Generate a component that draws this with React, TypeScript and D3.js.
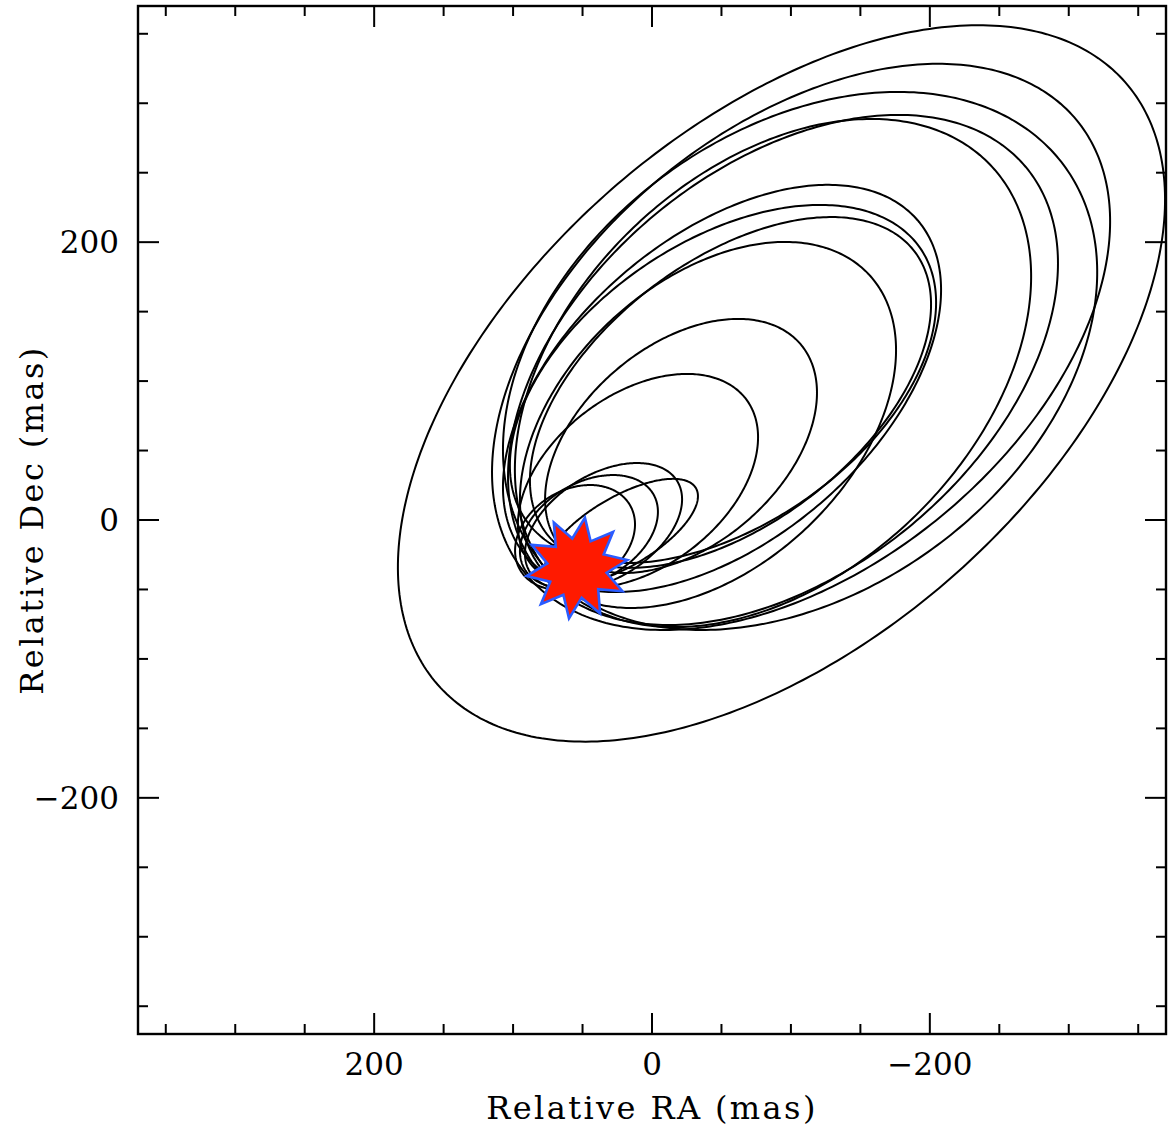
import React from "react";
import * as d3 from "d3";

// axis limits (mas)
const raDomain = [370, -370];
const decDomain = [-370, 370];
const majorTicks = [-200, 0, 200];
const minorTicks = [-350, -300, -250, -150, -100, -50, 50, 100, 150, 250, 300, 350];

// projected orbits: centre RA, centre Dec, semi-major, semi-minor, position angle (deg)
const orbitRA = [-93.2, -107.3, -106.6, -94.3, -87.1, -50.4, -51.1, -56.5, -40.3, -20.9, 10.1, 34.9, 45.4, 22.0, 55.4];
const orbitDec = [98.3, 124.6, 114.5, 108.0, 105.8, 94.7, 97.9, 91.8, 68.4, 53.3, 28.1, -4.7, -8.3, -8.6, -12.6];
const orbitA = [329.0, 256.9, 236.4, 227.8, 216.6, 185.7, 172.4, 166.9, 158.6, 113.0, 97.6, 62.3, 53.6, 62.2, 45.9];
const orbitB = [185.7, 158.2, 165.4, 144.9, 145.1, 108.9, 102.1, 94.5, 102.6, 71.9, 62.3, 37.5, 35.3, 25.0, 34.4];
const orbitPA = [-41.2, -39.4, -36.6, -39.9, -43.8, -40.7, -34.5, -37.5, -43.1, -40.4, -37.1, -31.7, -30.0, -30.5, -30.9];

// observed companion position
const starRA = 54;
const starDec = -34.6;

const W = 1168;
const H = 1133;
const plot = { left: 138, right: 1166, top: 6, bottom: 1034 };
const font = "'DejaVu Serif', serif";

export default function App() {
  const x = d3.scaleLinear().domain(raDomain).range([plot.left, plot.right]);
  const y = d3.scaleLinear().domain(decDomain).range([plot.bottom, plot.top]);

  const line = d3.line<[number, number]>()
    .x(d => x(d[0]))
    .y(d => y(d[1]))
    .curve(d3.curveLinearClosed);

  const angles = d3.range(0, 360, 1).map(t => (t * Math.PI) / 180);

  const orbits = orbitRA.map((cra, i) => {
    const phi = (orbitPA[i] * Math.PI) / 180;
    const a = orbitA[i], b = orbitB[i];
    const pts = angles.map(t => {
      const u = a * Math.cos(t), v = b * Math.sin(t);
      return [cra + u * Math.cos(phi) - v * Math.sin(phi),
              orbitDec[i] + u * Math.sin(phi) + v * Math.cos(phi)] as [number, number];
    });
    return line(pts);
  });

  // ten-pointed star marker
  const sx = x(starRA), sy = y(starDec);
  const starPts: [number, number][] = d3.range(20).map(k => {
    const ang = ((9 + k * 18) * Math.PI) / 180;
    const r = k % 2 === 0 ? 51 : 30;
    return [sx + r * Math.sin(ang), sy - r * Math.cos(ang)];
  });
  const starPath = "M" + starPts.map(p => p.join(",")).join("L") + "Z";

  const allTicks = [...majorTicks.map(v => ({ v, len: 21 })), ...minorTicks.map(v => ({ v, len: 10 }))];
  const fmt = d3.format("d");

  return (
    <div style={{ position: "absolute", left: 0, top: 0 }}>
      <svg width={W} height={H} style={{ display: "block", background: "#fff" }}>
        <defs>
          <clipPath id="plotclip">
            <rect x={plot.left} y={plot.top} width={plot.right - plot.left} height={plot.bottom - plot.top} />
          </clipPath>
        </defs>

        <g clipPath="url(#plotclip)">
          {orbits.map((d, i) => (
            <path key={i} d={d || ""} fill="none" stroke="#000" strokeWidth={2} />
          ))}
          <path d={starPath} fill="#ff1a00" stroke="#2a5cff" strokeWidth={2.6} strokeLinejoin="miter" />
        </g>

        {/* ticks on all four sides */}
        <g stroke="#000" strokeWidth={2}>
          {allTicks.map(({ v, len }) => (
            <g key={"x" + v}>
              <line x1={x(v)} x2={x(v)} y1={plot.bottom} y2={plot.bottom - len} />
              <line x1={x(v)} x2={x(v)} y1={plot.top} y2={plot.top + len} />
            </g>
          ))}
          {allTicks.map(({ v, len }) => (
            <g key={"y" + v}>
              <line x1={plot.left} x2={plot.left + len} y1={y(v)} y2={y(v)} />
              <line x1={plot.right} x2={plot.right - len} y1={y(v)} y2={y(v)} />
            </g>
          ))}
        </g>

        <rect x={plot.left} y={plot.top} width={plot.right - plot.left} height={plot.bottom - plot.top}
          fill="none" stroke="#000" strokeWidth={2.4} />

        <g fontFamily={font} fill="#000">
          {majorTicks.map(v => (
            <text key={"xl" + v} x={x(v)} y={1075} fontSize={31} textAnchor="middle">{fmt(v)}</text>
          ))}
          {majorTicks.map(v => (
            <text key={"yl" + v} x={119} y={y(v) + 11} fontSize={31} textAnchor="end">{fmt(v)}</text>
          ))}
          <text x={652} y={1119} fontSize={32} letterSpacing={2.4} textAnchor="middle">Relative RA (mas)</text>
          <text transform={`translate(43,520) rotate(-90)`} fontSize={32} letterSpacing={2.4} textAnchor="middle">Relative Dec (mas)</text>
        </g>
      </svg>
    </div>
  );
}
